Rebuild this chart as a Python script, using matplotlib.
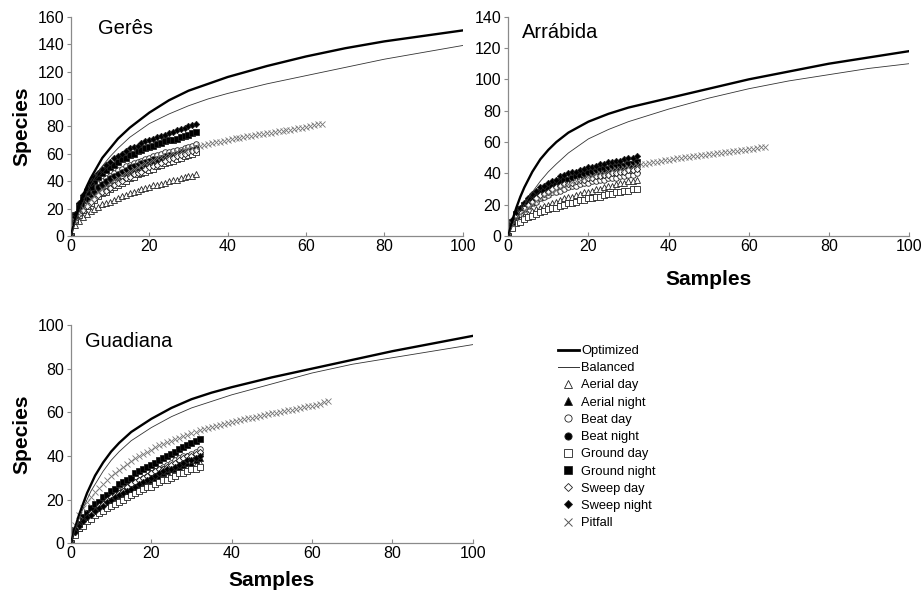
import matplotlib
matplotlib.use("Agg")
import matplotlib.pyplot as plt
from matplotlib.lines import Line2D

plt.rcParams["font.family"] = ["Liberation Sans", "DejaVu Sans"]

# x positions
samples = list(range(33))
samples_pitfall = list(range(65))
curve_x = [0, 1, 2, 3, 4, 5, 6, 8, 10, 12, 15, 20, 25, 30, 35, 40, 50, 60, 70, 80, 90, 100]

# --- Geres ---
geres_opt = [0, 12, 21, 29, 36, 42, 47, 57, 64, 71, 79, 90, 99, 106, 111, 116, 124, 131, 137, 142, 146, 150]
geres_bal = [0, 9, 17, 24, 31, 37, 42, 51, 58, 64, 72, 82, 89, 95, 100, 104, 111, 117, 123, 129, 134, 139]
geres_aerial_day = [0, 8, 11, 14, 16, 18, 20, 21, 23, 24, 25, 26, 28, 29, 30, 31, 32, 33, 34, 35, 36, 37, 37, 38, 39, 40, 41, 41, 42, 43, 44, 44, 45]
geres_aerial_night = [0, 12, 18, 22, 26, 29, 32, 35, 37, 39, 41, 43, 44, 46, 47, 48, 49, 50, 51, 52, 53, 54, 55, 55, 56, 57, 57, 58, 59, 59, 60, 61, 62]
geres_beat_day = [0, 13, 19, 24, 28, 32, 35, 38, 40, 42, 44, 46, 48, 49, 51, 52, 53, 54, 55, 56, 57, 58, 59, 60, 61, 61, 62, 63, 63, 64, 65, 66, 67]
geres_beat_night = [0, 13, 19, 23, 27, 30, 33, 36, 38, 40, 42, 44, 45, 47, 48, 50, 51, 52, 53, 54, 55, 56, 56, 57, 58, 59, 59, 60, 61, 61, 62, 63, 64]
geres_ground_day = [0, 11, 15, 19, 22, 24, 26, 29, 31, 32, 34, 36, 37, 39, 40, 42, 43, 45, 46, 47, 48, 49, 51, 52, 53, 54, 55, 56, 57, 58, 59, 60, 61]
geres_ground_night = [0, 15, 22, 27, 32, 36, 40, 43, 46, 48, 50, 52, 54, 56, 57, 59, 60, 62, 63, 64, 65, 66, 67, 68, 69, 70, 70, 71, 72, 73, 74, 75, 76]
geres_sweep_day = [0, 11, 16, 19, 22, 25, 27, 30, 32, 33, 35, 37, 39, 40, 42, 43, 45, 46, 47, 49, 50, 51, 52, 53, 55, 56, 57, 58, 59, 60, 61, 62, 63]
geres_sweep_night = [0, 16, 24, 30, 34, 39, 43, 46, 49, 52, 54, 57, 58, 60, 62, 64, 65, 66, 68, 69, 70, 71, 72, 73, 74, 75, 76, 77, 78, 79, 80, 81, 82]
geres_pitfall = [0, 10.7, 16.4, 20.5, 23.8, 26.7, 29.5, 32, 34.4, 36.5, 38.5, 40.6, 42.6, 44.3, 45.9, 47.6,
                 49.2, 50.4, 51.7, 52.9, 54.1, 55.4, 56.6, 57.4, 58.2, 59.2, 60.3, 61.1, 61.9, 62.7, 63.6, 64.4,
                 65.2, 65.8, 66.4, 67, 67.7, 68.3, 68.9, 69.5, 70.1, 70.6, 71.2, 71.7, 72.2, 72.7, 73.1, 73.6,
                 74.1, 74.6, 75, 75.5, 75.9, 76.4, 76.8, 77.2, 77.7, 78.1, 78.6, 79, 79.5, 80.2, 80.8, 81.4, 82]

# --- Arrabida ---
arr_opt = [0, 10, 18, 25, 31, 36, 41, 49, 55, 60, 66, 73, 78, 82, 85, 88, 94, 100, 105, 110, 114, 118]
arr_bal = [0, 6, 11, 16, 20, 24, 28, 35, 41, 46, 53, 62, 68, 73, 77, 81, 88, 94, 99, 103, 107, 110]
arr_aerial_day = [0, 6, 9, 11, 13, 14, 16, 17, 18, 19, 20, 21, 22, 23, 24, 25, 25, 26, 27, 28, 28, 29, 30, 30, 31, 32, 32, 33, 34, 34, 35, 35, 36]
arr_aerial_night = [0, 8, 12, 15, 18, 20, 22, 24, 25, 27, 28, 29, 30, 31, 32, 33, 33, 34, 35, 35, 36, 36, 37, 37, 38, 38, 39, 39, 40, 40, 41, 41, 42]
arr_beat_day = [0, 8, 12, 14, 17, 19, 21, 22, 24, 25, 26, 28, 28, 29, 30, 31, 32, 32, 33, 34, 34, 35, 35, 36, 36, 37, 37, 37, 38, 38, 39, 39, 40]
arr_beat_night = [0, 9, 13, 16, 19, 21, 23, 25, 27, 28, 30, 31, 32, 33, 34, 35, 36, 36, 37, 38, 38, 39, 40, 40, 41, 41, 42, 42, 43, 43, 44, 44, 45]
arr_ground_day = [0, 5, 8, 9, 11, 12, 13, 14, 15, 16, 17, 18, 18, 19, 20, 21, 21, 22, 23, 23, 24, 24, 25, 25, 26, 27, 27, 28, 28, 29, 29, 30, 30]
arr_ground_night = [0, 9, 14, 17, 20, 22, 24, 26, 28, 30, 31, 32, 33, 35, 36, 36, 37, 38, 39, 40, 40, 41, 41, 42, 43, 43, 44, 44, 45, 45, 46, 46, 47]
arr_sweep_day = [0, 9, 13, 16, 18, 20, 22, 24, 26, 27, 28, 30, 31, 32, 33, 33, 34, 35, 36, 36, 37, 37, 38, 38, 39, 39, 40, 40, 41, 41, 42, 42, 43]
arr_sweep_night = [0, 10, 15, 18, 21, 24, 27, 29, 31, 32, 34, 35, 36, 38, 39, 40, 41, 41, 42, 43, 44, 44, 45, 46, 46, 47, 47, 48, 48, 49, 50, 50, 51]
arr_pitfall = [0, 7.4, 11.4, 14.3, 16.5, 18.5, 20.5, 22.2, 23.9, 25.4, 26.8, 28.2, 29.6, 30.8, 31.9, 33.1,
               34.2, 35.1, 35.9, 36.8, 37.6, 38.5, 39.3, 39.9, 40.5, 41.2, 41.9, 42.5, 43, 43.6, 44.2, 44.7,
               45.3, 45.7, 46.2, 46.6, 47, 47.5, 47.9, 48.3, 48.7, 49.1, 49.5, 49.8, 50.2, 50.5, 50.8, 51.2,
               51.5, 51.8, 52.2, 52.5, 52.8, 53.1, 53.4, 53.7, 54, 54.3, 54.6, 54.9, 55.3, 55.7, 56.1, 56.6, 57]

# --- Guadiana ---
gua_opt = [0, 7, 13, 18, 23, 27, 31, 37, 42, 46, 51, 57, 62, 66, 69, 71.5, 76, 80, 84, 88, 91.5, 95]
gua_bal = [0, 6, 11, 16, 20, 24, 27, 33, 38, 42, 47, 53, 58, 62, 65, 68, 73, 78, 82, 85, 88, 91]
gua_aerial_day = [0, 5, 7, 9, 11, 12, 14, 15, 16, 17, 18, 20, 21, 22, 23, 24, 24, 25, 26, 27, 28, 29, 30, 30, 31, 32, 33, 33, 34, 35, 36, 36, 37]
gua_aerial_night = [0, 5, 7, 9, 11, 13, 14, 16, 17, 18, 19, 21, 22, 23, 24, 25, 26, 27, 28, 29, 29, 30, 31, 32, 33, 34, 34, 35, 36, 37, 37, 38, 39]
gua_beat_day = [0, 5, 8, 10, 12, 14, 16, 17, 19, 20, 21, 23, 24, 25, 26, 27, 28, 29, 30, 31, 32, 33, 34, 35, 36, 37, 38, 39, 40, 40, 41, 42, 43]
gua_beat_night = [0, 5, 8, 10, 12, 13, 15, 16, 18, 19, 20, 22, 23, 24, 25, 26, 27, 28, 29, 30, 31, 32, 33, 34, 34, 35, 36, 37, 38, 39, 39, 40, 41]
gua_ground_day = [0, 4, 7, 8, 10, 11, 13, 14, 15, 16, 17, 18, 19, 20, 21, 22, 23, 24, 25, 26, 26, 27, 28, 29, 29, 30, 31, 32, 32, 33, 34, 34, 35]
gua_ground_night = [0, 6, 9, 12, 14, 16, 18, 19, 21, 22, 24, 25, 27, 28, 29, 30, 32, 33, 34, 35, 36, 37, 38, 39, 40, 41, 42, 43, 44, 45, 46, 47, 48]
gua_sweep_day = [0, 5, 8, 10, 12, 14, 15, 17, 18, 20, 21, 22, 23, 24, 26, 27, 28, 29, 30, 31, 32, 33, 34, 34, 35, 36, 37, 38, 39, 40, 40, 41, 42]
gua_sweep_night = [0, 5, 8, 10, 12, 13, 15, 16, 17, 19, 20, 21, 22, 23, 24, 25, 26, 27, 28, 29, 30, 31, 32, 33, 34, 34, 35, 36, 37, 38, 38, 39, 40]
gua_pitfall = [0, 8.5, 13, 16.3, 18.9, 21.1, 23.4, 25.4, 27.3, 28.9, 30.6, 32.2, 33.8, 35.1, 36.4, 37.7,
               39, 40, 41, 41.9, 42.9, 43.9, 44.9, 45.5, 46.2, 47, 47.8, 48.4, 49.1, 49.7, 50.4, 51,
               51.7, 52.2, 52.7, 53.1, 53.6, 54.1, 54.6, 55.1, 55.6, 56, 56.4, 56.8, 57.2, 57.6, 58, 58.4,
               58.8, 59.1, 59.5, 59.8, 60.2, 60.5, 60.9, 61.2, 61.6, 61.9, 62.3, 62.7, 63.1, 63.5, 64, 64.5, 65]

method_labels = ["Aerial day", "Aerial night", "Beat day", "Beat night", "Ground day",
                 "Ground night", "Sweep day", "Sweep night"]
# marker, filled?, size
method_styles = [("^", False, 4.2), ("^", True, 4.2), ("o", False, 4.0), ("o", True, 4.0),
                 ("s", False, 4.0), ("s", True, 4.0), ("D", False, 3.2), ("D", True, 3.2)]

panels = [
    ("Gerês", [0.0769, 0.6034, 0.4244, 0.3685], 160, (0.069, 0.944),
     geres_opt, geres_bal,
     [geres_aerial_day, geres_aerial_night, geres_beat_day, geres_beat_night,
      geres_ground_day, geres_ground_night, geres_sweep_day, geres_sweep_night],
     geres_pitfall, True, None),
    ("Arrábida", [0.5507, 0.6034, 0.4341, 0.3685], 140, (0.033, 0.93),
     arr_opt, arr_bal,
     [arr_aerial_day, arr_aerial_night, arr_beat_day, arr_beat_night,
      arr_ground_day, arr_ground_night, arr_sweep_day, arr_sweep_night],
     arr_pitfall, False, 12),
    ("Guadiana", [0.0769, 0.0869, 0.4352, 0.3669], 100, (0.035, 0.923),
     gua_opt, gua_bal,
     [gua_aerial_day, gua_aerial_night, gua_beat_day, gua_beat_night,
      gua_ground_day, gua_ground_night, gua_sweep_day, gua_sweep_night],
     gua_pitfall, True, 7),
]

fig = plt.figure(figsize=(9.23, 5.95), dpi=100)
gray = "#8a8a8a"

for name, rect, ymax, tpos, opt, bal, methods, pit, ylab, xpad in panels:
    ax = fig.add_axes(rect)
    ax.plot(curve_x, opt, color="black", lw=1.7, zorder=3)
    ax.plot(curve_x, bal, color="#333333", lw=0.6, zorder=3)
    for vals, (mk, filled, ms) in zip(methods, method_styles):
        ax.plot(samples, vals, linestyle="none", marker=mk, ms=ms, mew=0.6,
                mec="#222222", mfc="black" if filled else "white", zorder=2)
    ax.plot(samples_pitfall, pit, linestyle="none", marker="x", ms=3.8, mew=0.6,
            color="#777777", zorder=2)

    ax.set_xlim(0, 100)
    ax.set_ylim(0, ymax)
    ax.set_xticks(range(0, 101, 20))
    ax.set_yticks(range(0, ymax + 1, 20))
    for side in ["top", "right"]:
        ax.spines[side].set_visible(False)
    for side in ["left", "bottom"]:
        ax.spines[side].set_color(gray)
        ax.spines[side].set_linewidth(0.9)
    ax.tick_params(axis="x", direction="in", length=3, color=gray, labelsize=11.5, pad=2)
    ax.tick_params(axis="y", direction="out", length=3, color=gray, labelsize=11.5, pad=2)
    ax.text(tpos[0], tpos[1], name, transform=ax.transAxes, fontsize=14.5, va="center", ha="left")
    if ylab:
        ax.set_ylabel("Species", fontsize=15, fontweight="bold", labelpad=4)
    if xpad is not None:
        ax.set_xlabel("Samples", fontsize=15, fontweight="bold", labelpad=xpad)

handles = [Line2D([], [], color="black", lw=2.0),
           Line2D([], [], color="#333333", lw=0.7)]
for mk, filled, ms in method_styles:
    handles.append(Line2D([], [], linestyle="none", marker=mk, ms=ms * 1.3, mew=0.6,
                          mec="#222222", mfc="black" if filled else "white"))
handles.append(Line2D([], [], linestyle="none", marker="x", ms=5.5, mew=0.7, color="#555555"))
labels = ["Optimized", "Balanced"] + method_labels + ["Pitfall"]

fig.legend(handles, labels, loc="upper left", bbox_to_anchor=(558 / 923, 1 - 345 / 595),
           frameon=False, fontsize=9.3, handlelength=1.6, handletextpad=0.2,
           labelspacing=0.4, borderpad=0, borderaxespad=0)

fig.savefig("out.png", dpi=100)
